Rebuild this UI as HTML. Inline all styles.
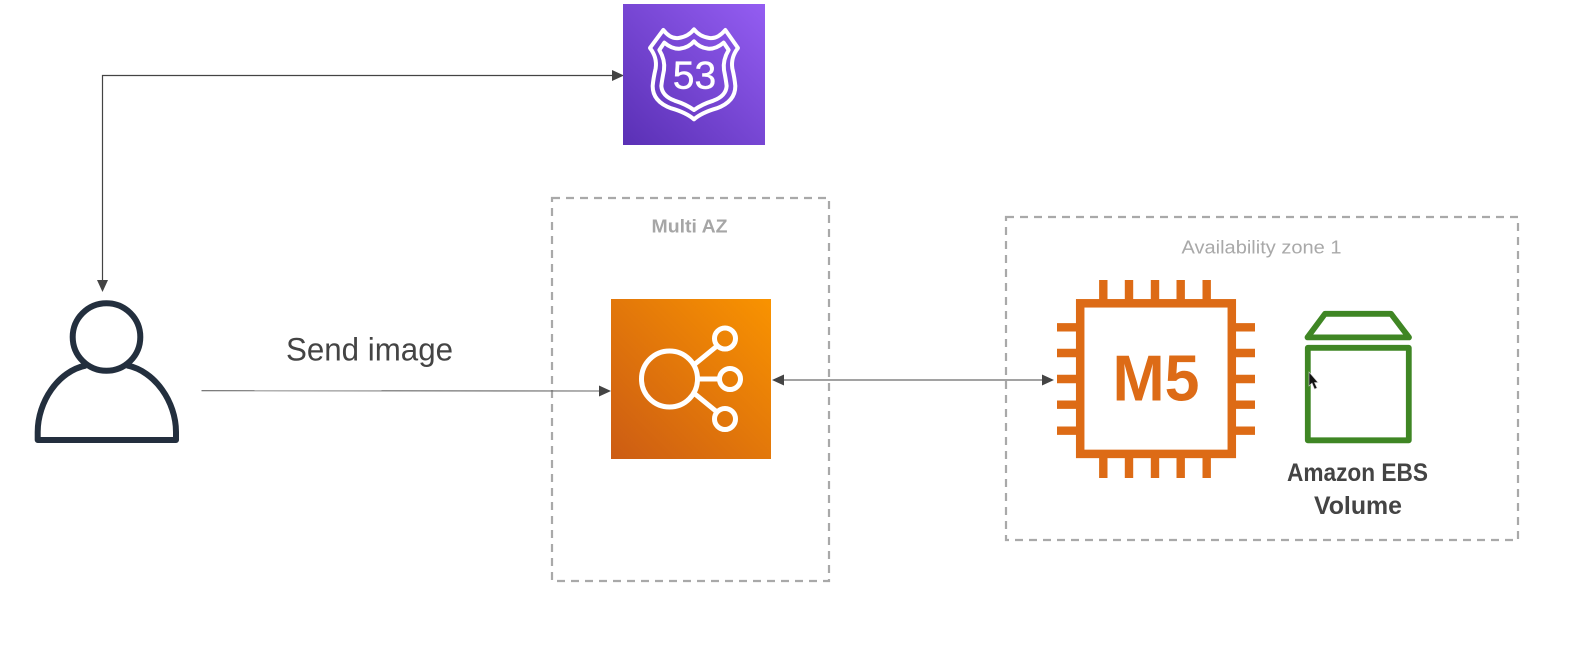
<!DOCTYPE html>
<html>
<head>
<meta charset="utf-8">
<style>
html,body{margin:0;padding:0;background:#fff;width:1585px;height:649px;overflow:hidden}
svg{display:block}
text{font-family:"Liberation Sans",sans-serif}
</style>
</head>
<body>
<svg width="1585" height="649" viewBox="0 0 1585 649" xmlns="http://www.w3.org/2000/svg">
<defs>
<linearGradient id="pur" x1="0" y1="1" x2="1" y2="0"><stop offset="0" stop-color="#5a30b5"/><stop offset="1" stop-color="#945df2"/></linearGradient>
<linearGradient id="org" x1="0" y1="1" x2="1" y2="0"><stop offset="0" stop-color="#cc5c14"/><stop offset="1" stop-color="#f99300"/></linearGradient>
</defs>
<rect width="1585" height="649" fill="#fff"/>

<!-- dashed boxes -->
<rect x="552" y="198" width="277" height="383" fill="none" stroke="#a9a9a9" stroke-width="2.2" stroke-dasharray="8 6"/>
<rect x="1006" y="217" width="512" height="323" fill="none" stroke="#a9a9a9" stroke-width="2.2" stroke-dasharray="8 6"/>
<text x="651.5" y="232.5" font-size="18" font-weight="bold" fill="#a6a6a6" textLength="76" lengthAdjust="spacingAndGlyphs">Multi AZ</text>
<text x="1181.5" y="253.5" font-size="18" fill="#a9a9a9" textLength="160" lengthAdjust="spacingAndGlyphs">Availability zone 1</text>

<!-- connectors -->
<path d="M613,75.5 H102.5 V281" fill="none" stroke="#444" stroke-width="1.2"/>
<polygon points="624,75.5 612,70 612,81" fill="#444"/>
<polygon points="102.5,292 97,280 108,280" fill="#444"/>
<path d="M201.5,390.7 L600,391" fill="none" stroke="#666" stroke-width="1.1"/>
<polygon points="611,391 599,385.5 599,396.5" fill="#444"/>
<path d="M783,380 H1043" fill="none" stroke="#444" stroke-width="1.1"/>
<polygon points="772,380 784,374.5 784,385.5" fill="#444"/>
<polygon points="1054,380 1042,374.5 1042,385.5" fill="#444"/>
<text x="286" y="360.5" font-size="32" fill="#444" textLength="167" lengthAdjust="spacingAndGlyphs">Send image</text>

<!-- Route 53 -->
<rect x="623" y="4" width="142" height="141" fill="url(#pur)"/>
<g transform="translate(600,0) scale(0.3333)" fill="none" stroke="#fff" stroke-width="12" stroke-linejoin="round">
<path d="M190,90 Q212,118 236,114 Q265,110 282,88 Q299,110 328,114 Q352,118 376,90 L414,144 Q392,172 397,205 Q404,235 406,258 Q406,305 350,325 Q305,338 282,358 Q259,338 214,325 Q158,305 158,258 Q160,235 167,205 Q172,172 150,144 Z"/>
<path d="M193,128 Q216,148 240,146 Q266,143 282,124 Q298,143 324,146 Q348,148 371,128 L386,150 Q368,180 372,210 Q378,240 380,258 Q378,288 340,302 Q305,313 282,330 Q259,313 224,302 Q186,288 184,258 Q186,240 192,210 Q196,180 178,150 Z"/>
</g>
<text x="694.5" y="88.5" font-size="39" fill="#fff" text-anchor="middle" stroke="#fff" stroke-width="0.4">53</text>

<!-- ELB -->
<rect x="611" y="299" width="160" height="160" fill="url(#org)"/>
<g fill="none" stroke="#fff" stroke-width="5">
<circle cx="669.5" cy="379" r="28"/>
<circle cx="725" cy="338.5" r="10.5"/>
<circle cx="730" cy="379" r="10.5"/>
<circle cx="725" cy="419" r="10.5"/>
<path d="M695,364 L717,346 M697,379 H720 M695,394 L717,412"/>
</g>

<!-- M5 -->
<g fill="none" stroke="#dd6b16">
<rect x="1080.2" y="303.3" width="151.6" height="150.6" stroke-width="8.5"/>
<path stroke-width="8.4" d="M1103.3,280V300M1129,280V300M1155,280V300M1180.7,280V300M1206.7,280V300
M1103.3,457V478M1129,457V478M1155,457V478M1180.7,457V478M1206.7,457V478
M1057,327.3H1077M1057,353H1077M1057,379H1077M1057,404.7H1077M1057,430.7H1077
M1235,327.3H1255M1235,353H1255M1235,379H1255M1235,404.7H1255M1235,430.7H1255"/>
</g>
<text x="1112.5" y="400.5" font-size="65" font-weight="bold" fill="#dd6b16" textLength="87" lengthAdjust="spacingAndGlyphs">M5</text>

<!-- EBS -->
<g fill="none" stroke="#3f8624" stroke-width="5.8" stroke-linejoin="round">
<rect x="1307.8" y="347.8" width="101" height="92.5"/>
<path d="M1325,313.8 H1391 L1409,337.4 H1307.5 Z"/>
</g>
<text x="1287" y="481" font-size="25" font-weight="bold" fill="#444" textLength="141" lengthAdjust="spacingAndGlyphs">Amazon EBS</text>
<text x="1314" y="514" font-size="25" font-weight="bold" fill="#444" textLength="88" lengthAdjust="spacingAndGlyphs">Volume</text>
<polygon points="1309,372 1309,386 1312,383 1314.5,389 1317,388 1314.5,382.5 1318,382.5" fill="#111" stroke="#ccc" stroke-width="0.6"/>

<!-- User -->
<g fill="none" stroke="#232f3e" stroke-width="6" stroke-linejoin="round">
<circle cx="106.5" cy="337" r="33.8"/>
<path d="M86,365.5 C58,371 37.7,402 37.7,432 V440 H176 V432 C176,402 155,371 127,365.5"/>
</g>
</svg>
</body>
</html>
